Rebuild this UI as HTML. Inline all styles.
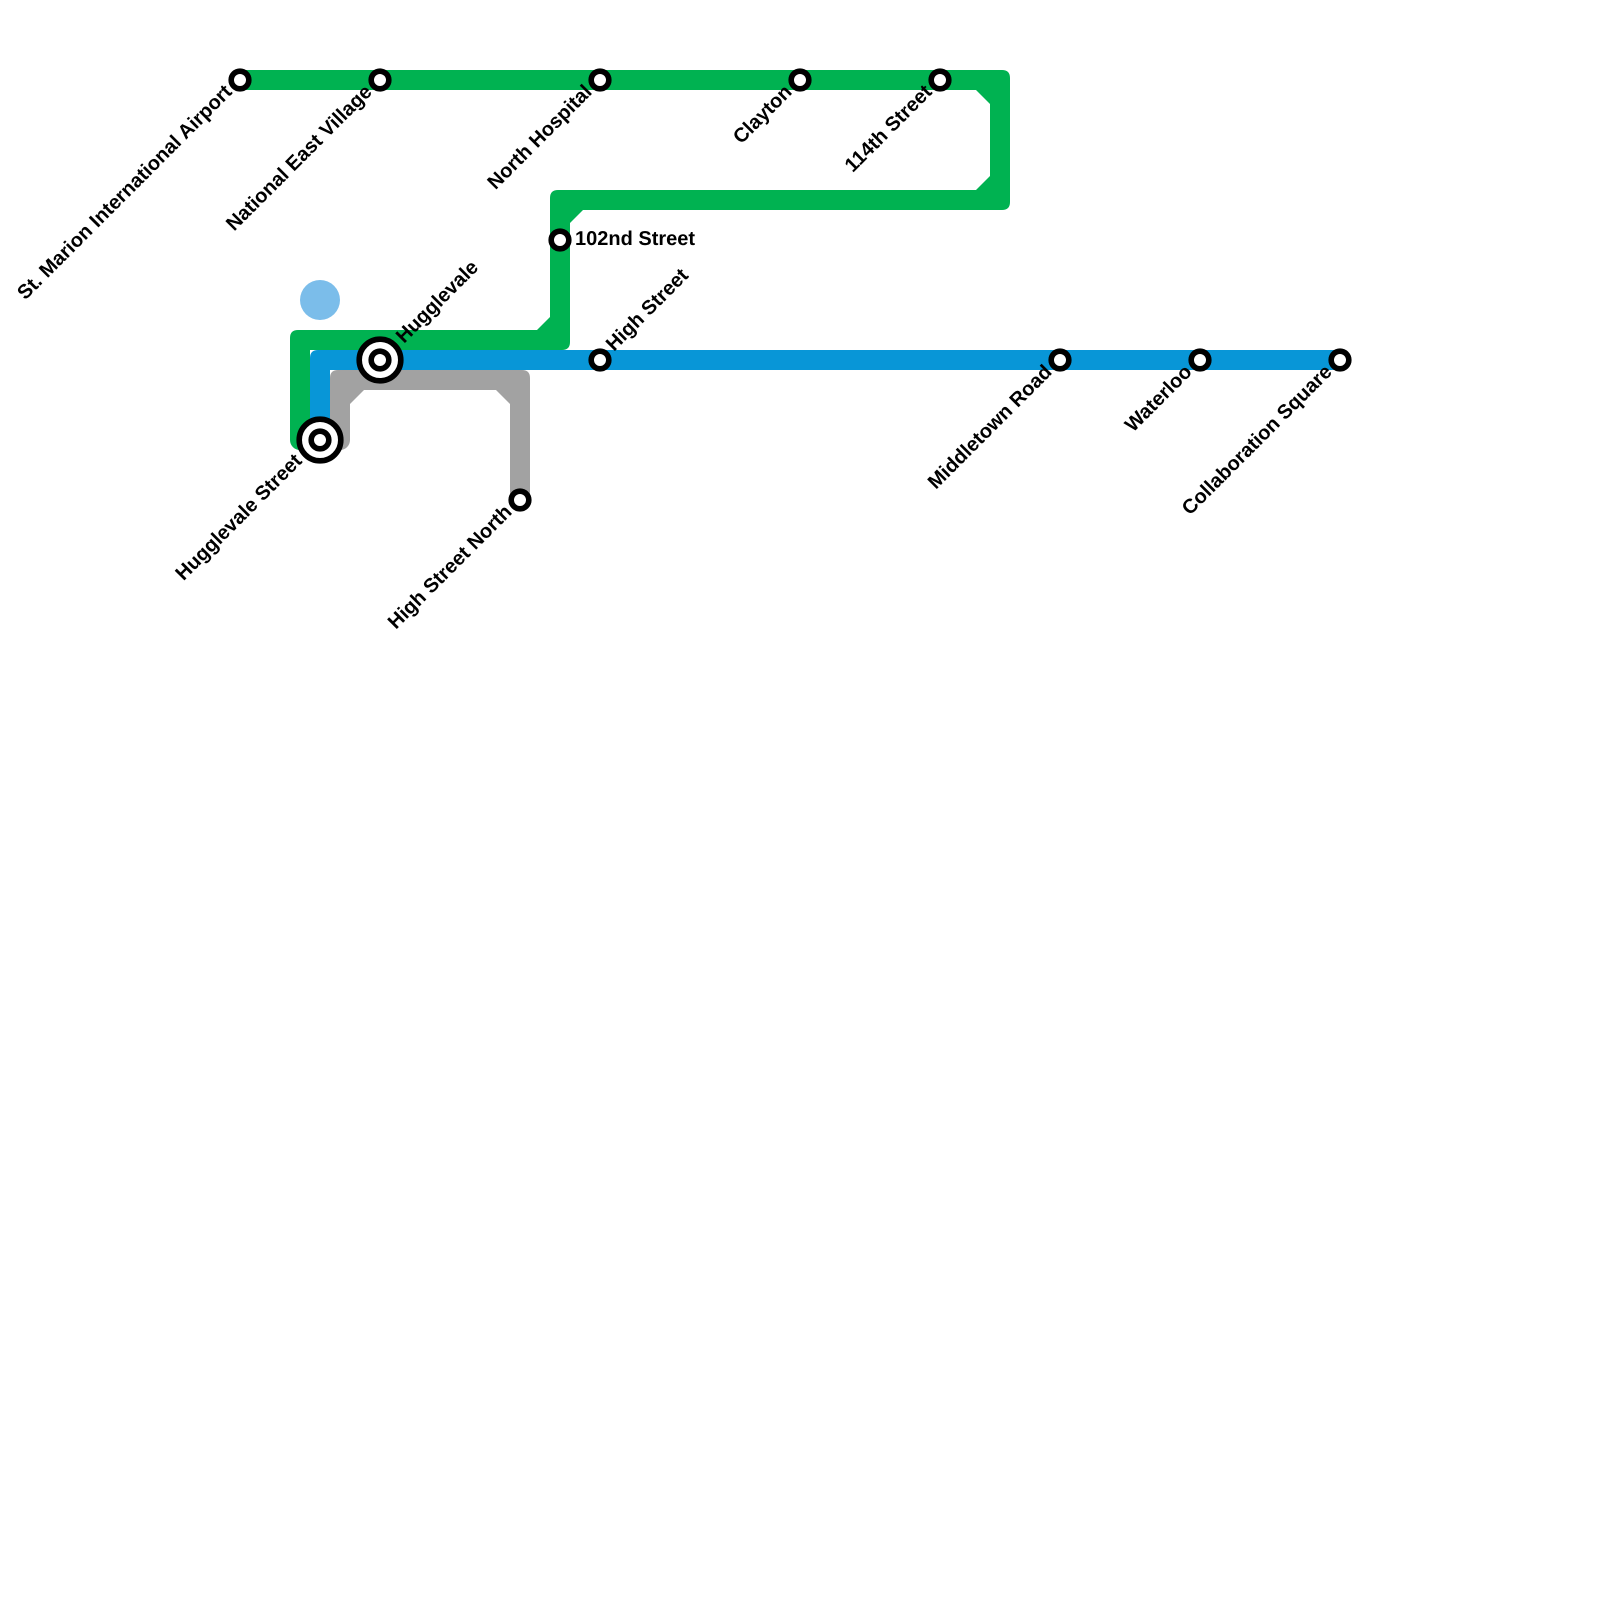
<!DOCTYPE html>
<html><head><meta charset="utf-8"><style>
html,body{margin:0;padding:0;background:#fff}
svg{display:block}
text{font-family:"Liberation Sans",sans-serif;font-weight:bold;font-size:20px;fill:#000;text-rendering:geometricPrecision}
</style></head><body>
<svg width="1600" height="1600" viewBox="0 0 1600 1600" xmlns="http://www.w3.org/2000/svg">
<rect width="1600" height="1600" fill="#fff"/>
<circle cx="320" cy="300" r="20" fill="#7bbdea"/>
<path fill="#00b251" d="M240 70H1002Q1010 70 1010 78V202Q1010 210 1002 210H583L570 223V342Q570 350 562 350H310V440A10 10 0 0 1 290 440V338Q290 330 298 330H537L550 317V198Q550 190 558 190H976L990 176V104L976 90H240Z"/>
<path fill="#a2a2a2" d="M330 440V378Q330 370 338 370H522Q530 370 530 378V500H510V404L496 390H364L350 404V440A10 10 0 0 1 330 440Z"/>
<path fill="#0896d7" d="M1340 350H318Q310 350 310 358V440H330V370H1340Z"/>
<g fill="#fff" stroke="#000" stroke-width="5.6">
<circle cx="240" cy="80" r="8.8"/><circle cx="380" cy="80" r="8.8"/><circle cx="600" cy="80" r="8.8"/><circle cx="800" cy="80" r="8.8"/><circle cx="940" cy="80" r="8.8"/>
<circle cx="560" cy="240" r="8.8"/><circle cx="600" cy="360" r="8.8"/><circle cx="1060" cy="360" r="8.8"/><circle cx="1200" cy="360" r="8.8"/><circle cx="1340" cy="360" r="8.8"/><circle cx="520" cy="500" r="8.8"/>
<circle cx="380" cy="360" r="20.8"/><circle cx="380" cy="360" r="8.8"/>
<circle cx="320" cy="440" r="20.8"/><circle cx="320" cy="440" r="8.8"/>
</g>
<g text-anchor="end">
<text transform="translate(228 88) rotate(-45)" y="7">St. Marion International Airport</text>
<text transform="translate(368 88) rotate(-45)" y="7">National East Village</text>
<text transform="translate(588 88) rotate(-45)" y="7">North Hospital</text>
<text transform="translate(788 88) rotate(-45)" y="7">Clayton</text>
<text transform="translate(928 88) rotate(-45)" y="7">114th Street</text>
<text transform="translate(1048 368) rotate(-45)" y="7">Middletown Road</text>
<text transform="translate(1188 368) rotate(-45)" y="7">Waterloo</text>
<text transform="translate(1328 368) rotate(-45)" y="7">Collaboration Square</text>
<text transform="translate(508 508) rotate(-45)" y="7">High Street North</text>
<text transform="translate(298 457) rotate(-45)" y="7">Hugglevale Street</text>
</g>
<text x="575" y="245">102nd Street</text>
<text transform="translate(399 339) rotate(-45)" y="7">Hugglevale</text>
<text transform="translate(609 347) rotate(-45)" y="7">High Street</text>
</svg>
</body></html>
